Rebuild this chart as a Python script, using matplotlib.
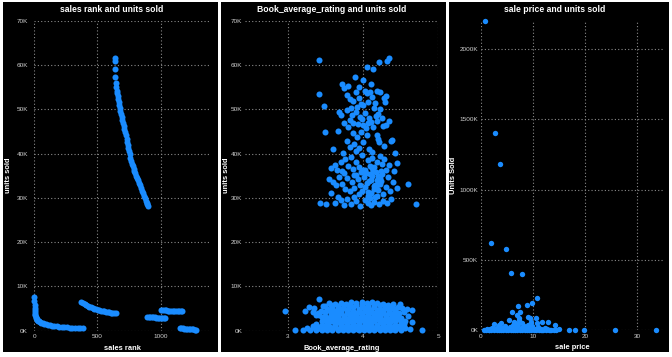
import matplotlib
matplotlib.use("Agg")
import matplotlib.pyplot as plt
from matplotlib.patches import Rectangle
from matplotlib.ticker import FuncFormatter

# ---- data ----
# panel 1: sales rank vs units sold (several runs of books)
rank_top = [638, 640, 641, 643, 645, 648, 652, 656, 660, 664, 668, 672, 677, 682, 687, 692, 698,
            703, 708, 714, 720, 726, 731, 736, 741, 746, 751, 756, 761, 767, 773, 779, 786, 793,
            800, 808, 816, 824, 832, 840, 848, 856, 864, 871, 878, 884, 890, 895, 899]
sold_top = [61500, 61000, 59200, 57300, 56000, 55000, 54200, 53600, 53000, 52300, 51600, 51000,
            50300, 49600, 48900, 48200, 47500, 46800, 46200, 45500, 44800, 44100, 43400, 42700,
            42000, 41300, 40600, 39800, 39000, 38300, 37700, 37100, 36500, 36000, 35500, 35000,
            34500, 34000, 33400, 32800, 32200, 31600, 31000, 30400, 29900, 29400, 28900, 28500, 28200]
rank_a = [0, 1, 2, 3, 4, 5, 7, 9, 12, 15, 19, 24, 30, 37, 45, 55, 66, 78, 92, 107, 123, 140,
          158, 177, 197, 217, 238, 259, 280, 301, 322, 343, 364, 385]
sold_a = [7500, 6600, 5800, 5100, 4600, 4200, 3800, 3500, 3200, 2950, 2700, 2500, 2300, 2150,
          2000, 1850, 1700, 1580, 1460, 1350, 1250, 1160, 1080, 1000, 940, 880, 820, 770, 720,
          680, 640, 600, 560, 520]
rank_b = [372, 385, 398, 411, 424, 437, 450, 463, 476, 489, 502, 515, 528, 541, 554, 567, 580,
          593, 606, 619, 632, 645]
sold_b = [6500, 6250, 6000, 5800, 5600, 5420, 5260, 5110, 4980, 4860, 4750, 4650, 4560, 4470,
          4390, 4310, 4240, 4170, 4100, 4040, 3980, 3920]
rank_c = [893, 905, 917, 929, 941, 953, 965, 977, 989, 1001, 1013, 1025, 1036]
sold_c = [3100, 3080, 3060, 3040, 3020, 3000, 2980, 2960, 2940, 2920, 2900, 2880, 2860]
rank_d = [1006, 1019, 1032, 1045, 1058, 1071, 1084, 1097, 1110, 1123, 1136, 1149, 1162, 1170]
sold_d = [4650, 4620, 4600, 4580, 4560, 4540, 4520, 4500, 4480, 4460, 4440, 4420, 4400, 4380]
rank_e = [1152, 1164, 1176, 1188, 1200, 1212, 1224, 1236, 1248, 1260, 1272, 1283]
sold_e = [600, 560, 520, 480, 440, 400, 370, 340, 310, 280, 250, 220]

# panel 2: Book_average_rating vs units sold (thousands)
rating_hi = [3.41, 3.42, 3.48, 3.49, 4.34, 4.32, 4.21, 4.05, 4.13, 3.89, 4.0, 3.72, 3.74, 3.43,
             3.51, 4.71, 4.6, 4.42, 4.37, 3.6,
             3.78, 3.82, 3.86, 3.9, 3.94, 3.97, 4.02, 4.05, 4.09, 4.12, 4.16, 4.19, 4.23, 4.28,
             4.31, 4.29, 3.84, 3.92, 4.0, 4.07, 4.14, 4.22, 3.8, 3.95, 4.1,
             3.68, 3.7, 3.79, 3.85, 3.9, 3.96, 4.03, 4.08, 4.11, 4.17, 4.2, 4.25, 3.74, 3.8, 3.87,
             3.93, 4.0, 4.06, 4.13, 4.18, 4.27, 4.31, 4.35, 3.98, 3.83, 4.04,
             3.66, 3.86, 3.92, 3.97, 4.05, 4.19, 4.2, 4.21, 3.88, 3.83, 3.95, 4.0, 3.9, 4.08, 3.78,
             3.73, 4.12, 4.28, 4.38,
             3.58, 3.62, 3.65, 3.7, 3.76, 3.8, 3.84, 3.87, 3.91, 3.95, 3.99, 4.02, 4.06, 4.09, 4.12,
             4.15, 4.18, 4.22, 4.25, 4.28, 4.3, 4.34, 4.45, 4.41, 3.72, 3.88,
             3.55, 3.6, 3.64, 3.68, 3.72, 3.76, 3.79, 3.82, 3.85, 3.88, 3.91, 3.94, 3.96, 3.99, 4.01,
             4.03, 4.06, 4.08, 4.1, 4.12, 4.14, 4.16, 4.18, 4.2, 4.22, 4.25, 4.27, 4.3, 4.33, 4.36,
             4.4, 4.45, 3.58, 3.66, 3.74, 4.04, 4.13, 4.24, 3.93, 4.0, 3.97, 4.09, 4.17,
             3.62, 3.7, 3.75, 3.79, 3.84, 3.9, 3.96, 4.02, 4.07, 4.11, 4.15, 4.21, 4.26, 4.32, 4.37,
             3.88, 4.19, 4.09,
             4.05, 4.1, 4.16, 4.2, 4.24, 4.14, 4.07, 4.18, 4.22, 4.12]
sold_hi = [61.1, 53.4, 50.7, 44.9, 61.5, 61.0, 60.7, 59.6, 59.0, 57.3, 56.7, 55.8, 54.9, 28.8,
           28.5, 28.7, 33.1, 40.1, 42.8, 41.1,
           53.2, 52.4, 51.8, 53.9, 52.6, 51.2, 54.1, 53.6, 54.0, 52.8, 51.5, 54.1, 54.0, 52.6,
           53.0, 51.6, 50.3, 50.6, 50.9, 51.6, 50.2, 50.0, 55.2, 55.0, 55.6,
           49.3, 48.6, 49.8, 48.8, 49.4, 48.3, 49.1, 48.0, 47.2, 48.5, 48.9, 48.1, 46.8, 46.1, 47.0,
           46.7, 46.5, 46.9, 46.0, 47.3, 46.2, 46.5, 47.4, 47.8, 47.6, 45.8,
           45.2, 44.6, 43.8, 44.9, 44.2, 44.3, 43.4, 42.6, 42.2, 41.5, 41.3, 42.5, 40.6, 41.0, 42.8,
           40.2, 40.4, 41.8, 43.0,
           36.8, 37.5, 36.2, 38.0, 38.7, 37.2, 39.3, 36.5, 38.2, 37.0, 39.6, 36.4, 38.5, 37.3, 39.1,
           36.9, 38.0, 39.4, 37.6, 38.8, 36.4, 37.5, 37.8, 36.1, 36.0, 35.2,
           34.2, 33.5, 32.8, 34.8, 33.2, 32.0, 34.5, 31.5, 33.6, 32.3, 35.1, 30.8, 33.0, 31.6, 34.6,
           32.4, 30.5, 33.8, 31.2, 35.0, 32.6, 30.1, 34.0, 31.8, 33.2, 35.3, 30.9, 32.5, 34.6, 31.5,
           33.6, 32.2, 31.0, 30.2, 35.5, 35.6, 36.0, 36.1, 34.2, 36.2, 35.9, 35.4, 35.8,
           28.8, 29.5, 28.3, 29.8, 28.6, 29.3, 28.2, 29.6, 28.9, 28.4, 29.1, 28.7, 29.4, 28.9, 29.7,
           30.3, 30.4, 29.9,
           33.4, 34.1, 33.0, 35.0, 33.9, 31.9, 31.4, 32.8, 34.4, 36.7]
rating_lo = [3.42, 3.55, 3.62, 3.7, 3.77, 3.84, 3.91, 3.98, 4.05, 4.12, 4.19, 4.26, 4.33, 4.4, 4.49,
             3.28, 3.35, 3.47, 3.52, 3.59, 3.66, 3.73, 3.8, 3.87, 3.94, 4.01, 4.08, 4.15, 4.22,
             4.29, 4.36, 4.43, 4.52, 4.58,
             2.96, 3.23, 3.33, 3.4, 3.5, 3.57, 3.64, 3.71, 3.78, 3.85, 3.92, 3.99, 4.06, 4.13, 4.2,
             4.27, 4.34, 4.41, 4.48, 4.65,
             3.38, 3.46, 3.53, 3.6, 3.67, 3.74, 3.81, 3.88, 3.95, 4.02, 4.09, 4.16, 4.23, 4.3, 4.37,
             4.44, 4.51, 4.6,
             3.45, 3.52, 3.59, 3.66, 3.73, 3.8, 3.87, 3.94, 4.01, 4.08, 4.15, 4.22, 4.29, 4.36, 4.43,
             4.5, 4.56, 4.65,
             3.33, 3.42, 3.49, 3.56, 3.63, 3.7, 3.77, 3.84, 3.91, 3.98, 4.05, 4.12, 4.19, 4.26, 4.33,
             4.4, 4.47, 4.51,
             3.1, 3.2, 3.3, 3.38, 3.45, 3.52, 3.59, 3.66, 3.73, 3.8, 3.87, 3.94, 4.01, 4.08, 4.15,
             4.22, 4.29, 4.36, 4.43, 4.5, 4.62, 4.78]
sold_lo = [7.1, 6.2, 6.0, 6.3, 6.1, 6.4, 6.2, 6.5, 6.3, 6.4, 6.2, 6.0, 5.8, 6.0, 6.1,
           5.4, 5.2, 5.5, 4.9, 5.1, 4.9, 5.2, 5.0, 5.3, 5.0, 5.2, 5.0, 5.3, 5.0, 5.1, 4.9, 5.0,
           5.1, 5.0,
           4.5, 4.5, 4.3, 4.0, 4.2, 3.9, 4.1, 3.9, 4.1, 3.9, 4.1, 3.9, 4.1, 3.9, 4.1, 3.9, 4.1,
           3.9, 4.1, 4.6,
           3.6, 3.1, 2.9, 3.1, 2.9, 3.1, 2.9, 3.1, 2.9, 3.1, 2.9, 3.1, 2.9, 3.1, 2.9, 3.1, 2.9, 3.3,
           2.1, 1.9, 2.1, 1.9, 2.1, 1.9, 2.1, 1.9, 2.1, 1.9, 2.1, 1.9, 2.1, 1.9, 2.1, 1.9, 2.3, 2.0,
           1.0, 0.9, 1.1, 0.9, 1.1, 0.9, 1.1, 0.9, 1.1, 0.9, 1.1, 0.9, 1.1, 0.9, 1.1, 0.9, 1.1, 0.8,
           0.1, 0.1, 0.2, 0.1, 0.2, 0.1, 0.2, 0.1, 0.2, 0.1, 0.2, 0.1, 0.2, 0.1, 0.2, 0.1, 0.2,
           0.1, 0.2, 0.1, 0.4, 0.1]
# books between the rows above, same low cluster
rating_mid = [3.5, 3.58, 3.66, 3.74, 3.82, 3.9, 3.98, 4.06, 4.14, 4.22, 4.3, 4.38, 4.46,
              3.44, 3.54, 3.62, 3.7, 3.78, 3.86, 3.94, 4.02, 4.1, 4.18, 4.26, 4.34, 4.42, 4.55,
              3.42, 3.5, 3.58, 3.66, 3.74, 3.82, 3.9, 3.98, 4.06, 4.14, 4.22, 4.3, 4.38, 4.46,
              3.49, 3.56, 3.63, 3.7, 3.77, 3.84, 3.91, 3.98, 4.05, 4.12, 4.19, 4.26, 4.33, 4.47,
              3.38, 3.46, 3.54, 3.62, 3.7, 3.78, 3.86, 3.94, 4.02, 4.1, 4.18, 4.26, 4.34, 4.42, 4.54,
              3.25, 3.36, 3.44, 3.52, 3.6, 3.68, 3.76, 3.84, 3.92, 4.0, 4.08, 4.16, 4.24, 4.32,
              4.4, 4.48, 4.56]
sold_mid = [5.6, 5.7, 5.5, 5.8, 5.6, 5.9, 5.7, 5.8, 5.6, 5.7, 5.5, 5.6, 5.4,
            4.5, 4.6, 4.4, 4.6, 4.5, 4.4, 4.6, 4.5, 4.4, 4.6, 4.5, 4.4, 4.6, 4.3,
            3.5, 3.4, 3.6, 3.5, 3.4, 3.6, 3.5, 3.4, 3.6, 3.5, 3.4, 3.6, 3.5, 3.4,
            2.5, 2.6, 2.4, 2.5, 2.6, 2.4, 2.5, 2.6, 2.4, 2.5, 2.6, 2.4, 2.5, 2.6,
            1.5, 1.4, 1.6, 1.5, 1.4, 1.6, 1.5, 1.4, 1.6, 1.5, 1.4, 1.6, 1.5, 1.4, 1.5,
            0.5, 0.6, 0.4, 0.5, 0.6, 0.4, 0.5, 0.6, 0.4, 0.5, 0.6, 0.4, 0.5, 0.6, 0.4, 0.5, 0.6]

# panel 3: sale price vs units sold (thousands)
price = [0.7, 2.7, 3.7, 1.9, 4.9, 5.8, 7.9, 10.8, 9.9, 8.8, 7.2, 6.0, 7.5, 6.9, 9.0, 9.5, 10.5,
         5.3, 2.5, 3.8, 3.5, 11.8, 12.8, 14.2, 15.0, 16.9, 18.0, 19.8, 25.8, 33.7,
         0.6, 1.0, 1.5, 2.0, 2.5, 3.0, 3.4, 3.9, 4.3, 4.8, 5.2, 5.7, 6.1, 6.6, 7.0, 7.5, 7.9,
         8.4, 8.8, 9.3, 9.7, 10.2, 10.6, 11.1, 11.5, 12.0, 12.5, 13.0, 13.5, 14.0, 14.5,
         2.2, 2.9, 3.3, 4.1, 4.6, 5.0, 5.5, 6.2, 6.5, 6.8, 7.1, 7.4, 7.8, 8.2, 8.6, 9.0, 9.4,
         9.8, 10.3, 11.0, 11.6, 12.4, 13.2, 7.3, 6.4, 8.0, 5.9, 4.4, 3.7, 1.5, 10.8, 9.6,
         1.2, 1.8, 2.6, 3.2, 4.0, 4.7, 5.4, 6.3, 7.0, 7.7, 8.5, 9.2, 10.0, 10.9, 11.8, 12.7]
sold_price = [2198, 1405, 1184, 621, 576, 405, 400, 227, 194, 180, 173, 133, 133, 109, 97, 85, 90,
              73, 45, 55, 36, 62, 62, 36, 12, 2, 2, 0, 5, 0,
              0, 2, 0, 3, 0, 2, 0, 3, 0, 2, 0, 3, 0, 2, 0, 3, 0, 2, 0, 3, 0, 2, 0, 3, 0, 2, 0, 2,
              0, 1, 0,
              15, 10, 25, 18, 30, 12, 22, 35, 50, 25, 45, 70, 55, 30, 20, 40, 15, 30, 12, 20, 8,
              15, 5, 90, 60, 15, 8, 10, 6, 5, 55, 60,
              8, 12, 6, 14, 8, 18, 10, 20, 28, 15, 10, 22, 8, 12, 5, 8]

BLUE = "#1a8cff"
W, H = 672, 357

plt.rcParams["font.family"] = ["Liberation Sans", "DejaVu Sans"]


def box(x0, y0, x1, y1):
    # pixel box (from top-left) -> figure fraction
    return [x0 / W, 1 - y1 / H, (x1 - x0) / W, (y1 - y0) / H]


def style(ax, ypad):
    ax.set_facecolor("black")
    for s in ax.spines.values():
        s.set_visible(False)
    ax.grid(True, color="#8a8a8a", linestyle=(0, (1, 2)), linewidth=0.8)
    ax.set_axisbelow(True)
    ax.tick_params(length=0, colors="#d0d0d0", labelsize=4.6)
    ax.tick_params(axis="y", pad=ypad)
    ax.tick_params(axis="x", pad=2.5)


fig = plt.figure(figsize=(W / 100, H / 100), dpi=100, facecolor="white")

# black panel backgrounds
for x0, x1 in [(3, 218), (221, 446), (449, 669)]:
    fig.add_artist(Rectangle((x0 / W, 1 - 352 / H), (x1 - x0) / W, 350 / H, zorder=-5,
                             transform=fig.transFigure, facecolor="black", edgecolor="none"))

kfmt = FuncFormatter(lambda v, p: f"{v / 1000:.0f}K")
lab = dict(color="white", fontsize=5.4, fontweight="bold")

# panel 1
ax1 = fig.add_axes(box(34.3, 20.7, 211, 330.7))
style(ax1, 4.5)
for r, s in [(rank_top, sold_top), (rank_a, sold_a), (rank_b, sold_b), (rank_c, sold_c),
             (rank_d, sold_d), (rank_e, sold_e)]:
    ax1.scatter(r, s, s=19, color=BLUE, linewidths=0, clip_on=False)
ax1.set_xlim(0, 1400)
ax1.set_ylim(0, 70000)
ax1.set_xticks([0, 500, 1000])
ax1.set_yticks(range(0, 70001, 10000))
ax1.yaxis.set_major_formatter(kfmt)
ax1.set_xlabel("sales rank", labelpad=4, **lab)
ax1.set_ylabel("units sold", **lab)
ax1.yaxis.set_label_coords((12 - 34.3) / (211 - 34.3), 0.5)

# panel 2
ax2 = fig.add_axes(box(245, 20.7, 438.3, 330.7))
style(ax2, 2)
for r, s in [(rating_hi, sold_hi), (rating_lo, sold_lo), (rating_mid, sold_mid)]:
    ax2.scatter(r, [v * 1000 for v in s], s=19, color=BLUE, linewidths=0, clip_on=False)
ax2.set_xlim(2.43, 5.0)
ax2.set_ylim(0, 70000)
ax2.set_xticks([3, 4, 5])
ax2.set_yticks(range(0, 70001, 10000))
ax2.yaxis.set_major_formatter(kfmt)
ax2.set_xlabel("Book_average_rating", labelpad=4, **lab)
ax2.set_ylabel("units sold", **lab)
ax2.yaxis.set_label_coords((230 - 245) / (438.3 - 245), 0.5)

# panel 3
ax3 = fig.add_axes(box(481, 20, 663, 330.3))
style(ax3, 2)
ax3.scatter(price, [v * 1000 for v in sold_price], s=15, color=BLUE, linewidths=0, clip_on=False)
ax3.set_xlim(0, 35)
ax3.set_ylim(0, 2208000)
ax3.set_xticks([0, 10, 20, 30])
ax3.set_yticks(range(0, 2000001, 500000))
ax3.yaxis.set_major_formatter(kfmt)
ax3.set_xlabel("sale price", labelpad=4, **lab)
ax3.set_ylabel("Units Sold", **lab)
ax3.yaxis.set_label_coords((457 - 481) / (663 - 481), 0.5)

# titles centred on each panel
for cx, t in [(112, "sales rank and units sold"), (332, "Book_average_rating and units sold"),
              (555, "sale price and units sold")]:
    fig.text(cx / W, 1 - 9 / H, t, color="white", fontsize=6.2, fontweight="bold",
             ha="center", va="center")

fig.savefig("out.png", dpi=100, facecolor="white")
